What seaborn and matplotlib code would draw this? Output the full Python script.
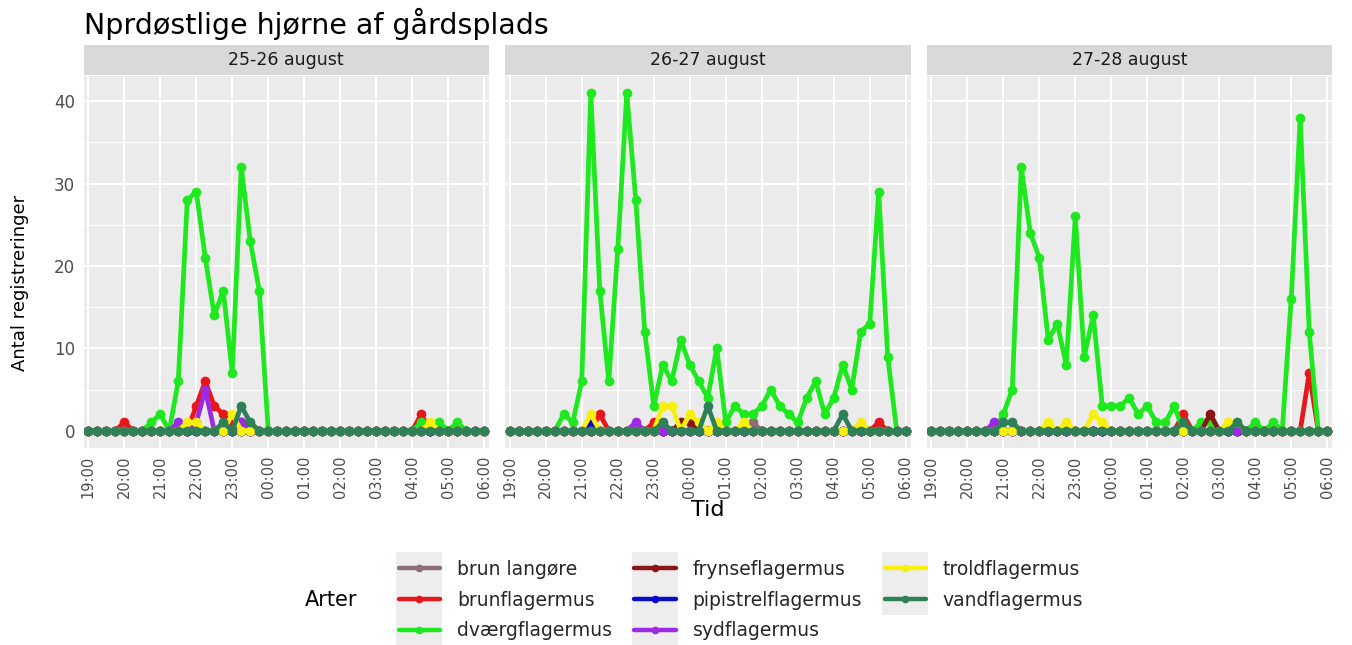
import matplotlib
matplotlib.use("Agg")
import matplotlib.pyplot as plt
from matplotlib.lines import Line2D
from matplotlib.patches import Rectangle
from matplotlib.ticker import MultipleLocator
import pandas as pd
import seaborn as sns

# ---------------- data ----------------
species = ["brun langøre", "brunflagermus", "dværgflagermus", "frynseflagermus",
           "pipistrelflagermus", "sydflagermus", "troldflagermus", "vandflagermus"]
colors = ["#8B6F75", "#E8151B", "#1EE81E", "#8B1515",
          "#0A0ACD", "#9A2BE2", "#F7F00F", "#2E8058"]
nights = ["25-26 august", "26-27 august", "27-28 august"]
hour_labels = ["19:00", "20:00", "21:00", "22:00", "23:00", "00:00",
               "01:00", "02:00", "03:00", "04:00", "05:00", "06:00"]
# 15-minute registration slots from 19:00 to 06:00
time_labels = [f"{(19 + q // 4) % 24:02d}:{15 * (q % 4):02d}" for q in range(45)]

# night 25-26 august (slots not listed = 0 registrations)
brunlang_25 = {}
brun_25 = {"20:00": 1, "22:00": 3, "22:15": 6, "22:30": 3, "22:45": 2, "23:00": 1,
           "23:15": 1, "04:15": 2}
dvaerg_25 = {"20:45": 1, "21:00": 2, "21:30": 6, "21:45": 28, "22:00": 29, "22:15": 21,
             "22:30": 14, "22:45": 17, "23:00": 7, "23:15": 32, "23:30": 23, "23:45": 17,
             "04:15": 1, "04:45": 1, "05:15": 1}
frynse_25 = {}
pipi_25 = {}
syd_25 = {"21:30": 1, "22:00": 1, "22:15": 5, "23:15": 1}
trold_25 = {"21:45": 1, "22:00": 1, "23:00": 2, "04:30": 1}
vand_25 = {"22:45": 1, "23:15": 3, "23:30": 1}

# night 26-27 august
brunlang_26 = {"01:45": 1}
brun_26 = {"21:30": 2, "23:00": 1, "05:15": 1}
dvaerg_26 = {"20:30": 2, "20:45": 1, "21:00": 6, "21:15": 41, "21:30": 17, "21:45": 6,
             "22:00": 22, "22:15": 41, "22:30": 28, "22:45": 12, "23:00": 3, "23:15": 8,
             "23:30": 6, "23:45": 11, "00:00": 8, "00:15": 6, "00:30": 4, "00:45": 10,
             "01:00": 1, "01:15": 3, "01:30": 2, "01:45": 2, "02:00": 3, "02:15": 5,
             "02:30": 3, "02:45": 2, "03:00": 1, "03:15": 4, "03:30": 6, "03:45": 2,
             "04:00": 4, "04:15": 8, "04:30": 5, "04:45": 12, "05:00": 13, "05:15": 29,
             "05:30": 9}
frynse_26 = {"23:45": 1, "00:00": 1}
pipi_26 = {"21:15": 1}
syd_26 = {"22:30": 1}
trold_26 = {"21:15": 2, "23:15": 3, "23:30": 3, "00:00": 2, "00:15": 1, "00:45": 1,
            "01:30": 1, "04:45": 1}
vand_26 = {"23:15": 1, "00:30": 3, "04:15": 2}

# night 27-28 august
brunlang_27 = {}
brun_27 = {"02:00": 2, "05:30": 7}
dvaerg_27 = {"21:00": 2, "21:15": 5, "21:30": 32, "21:45": 24, "22:00": 21, "22:15": 11,
             "22:30": 13, "22:45": 8, "23:00": 26, "23:15": 9, "23:30": 14, "23:45": 3,
             "00:00": 3, "00:15": 3, "00:30": 4, "00:45": 2, "01:00": 3, "01:15": 1,
             "01:30": 1, "01:45": 3, "02:30": 1, "02:45": 1, "04:00": 1, "04:30": 1,
             "05:00": 16, "05:15": 38, "05:30": 12}
frynse_27 = {"02:45": 2}
pipi_27 = {}
syd_27 = {"20:45": 1}
trold_27 = {"22:15": 1, "22:45": 1, "23:30": 2, "23:45": 1, "03:15": 1, "03:30": 1}
vand_27 = {"21:00": 1, "21:15": 1, "02:00": 1, "03:30": 1}

night_series = {
    nights[0]: [brunlang_25, brun_25, dvaerg_25, frynse_25, pipi_25, syd_25, trold_25, vand_25],
    nights[1]: [brunlang_26, brun_26, dvaerg_26, frynse_26, pipi_26, syd_26, trold_26, vand_26],
    nights[2]: [brunlang_27, brun_27, dvaerg_27, frynse_27, pipi_27, syd_27, trold_27, vand_27],
}

rows = []
for night, series_list in night_series.items():
    for art, counts in zip(species, series_list):
        for q, t in enumerate(time_labels):
            rows.append({"nat": night, "art": art, "tid": t, "timer": q * 0.25,
                         "antal": counts.get(t, 0)})
df = pd.DataFrame(rows)

# ---------------- style ----------------
sns.set_theme(style="darkgrid")
plt.rcParams["font.family"] = ["DejaVu Sans"]

W, H = 1352, 645
fig = plt.figure(figsize=(W / 100, H / 100), dpi=100)
fig.patch.set_facecolor("white")

panel_left_px = [83.5, 505.0, 926.5]
panel_w_px = 405.5
panel_top_px, panel_bot_px = 76.0, 447.6
strip_top_px = 45.0
palette = dict(zip(species, colors))

axes = []
for i, night in enumerate(nights):
    lx = panel_left_px[i] / W
    ax = fig.add_axes([lx, 1 - panel_bot_px / H, panel_w_px / W,
                       (panel_bot_px - panel_top_px) / H])
    sub = df[df["nat"] == night]
    sns.lineplot(data=sub, x="timer", y="antal", hue="art", hue_order=species,
                 palette=palette, marker="o", markersize=7, markeredgewidth=0,
                 linewidth=3.4, errorbar=None, estimator=None, legend=False, ax=ax)
    ax.set_facecolor("#EBEBEB")
    for s in ax.spines.values():
        s.set_visible(False)
    ax.set_xlim(-0.133, 11.133)
    ax.set_ylim(-2.05, 43.05)
    ax.set_xticks(range(12))
    ax.set_xticklabels(hour_labels, rotation=90, fontsize=10.5, color="#4D4D4D")
    ax.set_yticks([0, 10, 20, 30, 40])
    ax.yaxis.set_minor_locator(MultipleLocator(5))
    ax.grid(which="major", color="white", linewidth=1.5)
    ax.grid(which="minor", axis="y", color="white", linewidth=0.7)
    ax.grid(which="minor", axis="x", visible=False)
    ax.set_axisbelow(True)
    ax.tick_params(which="major", length=4, width=1.3, color="#333333",
                   labelcolor="#4D4D4D", pad=2, labelsize=10.5)
    ax.tick_params(axis="y", labelsize=12)
    ax.tick_params(which="minor", length=0)
    if i > 0:
        ax.tick_params(axis="y", left=False, labelleft=False)
    ax.set_xlabel("")
    ax.set_ylabel("")
    # facet strip
    sax = fig.add_axes([lx, 1 - panel_top_px / H + 0.0015, panel_w_px / W,
                        (panel_top_px - strip_top_px) / H - 0.0015])
    sax.set_facecolor("#D9D9D9")
    sax.set_xticks([])
    sax.set_yticks([])
    sax.grid(False)
    for s in sax.spines.values():
        s.set_visible(False)
    sax.text(0.5, 0.5, night, ha="center", va="center", fontsize=12.5,
             color="#1A1A1A", transform=sax.transAxes)
    axes.append(ax)

fig.text(84 / W, 1 - 8 / H, "Nprdøstlige hjørne af gårdsplads", ha="left", va="top",
         fontsize=20.5, color="black")
fig.text(20 / W, 1 - 283 / H, "Antal registreringer", rotation=90, ha="center",
         va="center", fontsize=13, color="black")
fig.text(708 / W, 1 - 510 / H, "Tid", ha="center", va="center", fontsize=16,
         color="black")

handles = [Line2D([], [], color=c, linewidth=3.2, marker="o", markersize=5.5,
                  markeredgewidth=0) for c in colors]
leg = fig.legend(handles, species, ncol=3, loc="center",
                 bbox_to_anchor=(741 / W, 1 - 600 / H), frameon=False,
                 fontsize=13.5, handlelength=2.2, handletextpad=0.9,
                 columnspacing=1.2, labelspacing=0.62, borderpad=0)
fig.text(305 / W, 1 - 600 / H, "Arter", ha="left", va="center", fontsize=15,
         color="black")

# grey legend-key backgrounds like ggplot
fig.canvas.draw()
renderer = fig.canvas.get_renderer()
key_w, key_h = 46, 32
for h in leg.legend_handles:
    bb = h.get_window_extent(renderer)
    cx, cy = (bb.x0 + bb.x1) / 2, (bb.y0 + bb.y1) / 2
    rect = Rectangle(((cx - key_w / 2) / W, (cy - key_h / 2) / H), key_w / W, key_h / H,
                     transform=fig.transFigure, facecolor="#EDEDED", edgecolor="none",
                     zorder=0)
    fig.add_artist(rect)

fig.savefig("out.png", dpi=100)
